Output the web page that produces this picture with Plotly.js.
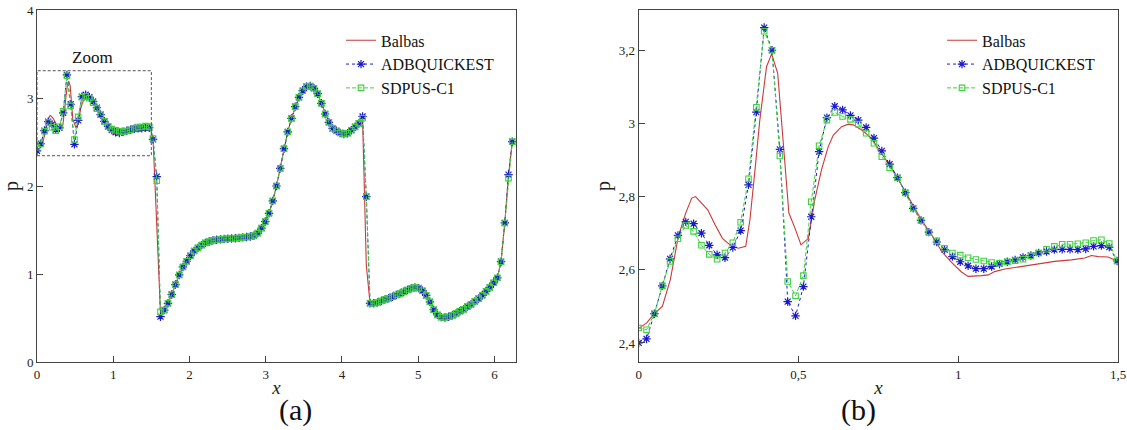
<!DOCTYPE html>
<html><head><meta charset="utf-8">
<script src="https://cdn.plot.ly/plotly-3.0.1.min.js"></script>
<style>html,body{margin:0;padding:0;background:#fff}</style>
</head><body><div id="chart" style="width:1127px;height:430px"></div>
<script>
// grid spacing of the numerical solution (256 cells on [0, 2*pi])
const DX = 2 * Math.PI / 256;

// Fine data, i = 0..61 (x = i*DX), shown in panel (b)
const adbFine = [2.400, 2.411, 2.480, 2.556, 2.630, 2.694, 2.731, 2.726, 2.700, 2.667,
  2.641, 2.633, 2.661, 2.707, 2.832, 3.031, 3.262, 3.200, 2.929, 2.513,
  2.474, 2.554, 2.745, 2.923, 3.016, 3.047, 3.037, 3.022, 3.009, 2.989,
  2.960, 2.925, 2.889, 2.852, 2.811, 2.768, 2.735, 2.703, 2.676, 2.655,
  2.636, 2.622, 2.611, 2.603, 2.603, 2.609, 2.616, 2.622, 2.627, 2.634,
  2.639, 2.646, 2.650, 2.655, 2.656, 2.656, 2.655, 2.657, 2.664, 2.666,
  2.662, 2.624];
const sdpFine = [2.441, 2.436, 2.480, 2.556, 2.623, 2.685, 2.721, 2.705, 2.667, 2.642,
  2.629, 2.646, 2.674, 2.730, 2.849, 3.044, 3.252, 3.200, 2.911, 2.568,
  2.529, 2.584, 2.786, 2.939, 3.009, 3.030, 3.019, 3.011, 2.998, 2.973,
  2.946, 2.909, 2.879, 2.851, 2.810, 2.768, 2.734, 2.702, 2.679, 2.659,
  2.646, 2.640, 2.633, 2.628, 2.624, 2.620, 2.618, 2.622, 2.625, 2.629,
  2.638, 2.646, 2.656, 2.664, 2.670, 2.670, 2.671, 2.674, 2.680, 2.682,
  2.672, 2.624];

// Coarse data, i = 62, 64, ..., 254, shown in panel (a)
const adbCoarse = [2.530, 2.106, 0.515, 0.590, 0.667, 0.767, 0.880, 0.989, 1.080, 1.145,
  1.208, 1.262, 1.297, 1.328, 1.354, 1.369, 1.382, 1.389, 1.394, 1.398,
  1.401, 1.404, 1.406, 1.411, 1.416, 1.420, 1.426, 1.438, 1.464, 1.521,
  1.596, 1.690, 1.830, 2.000, 2.200, 2.424, 2.614, 2.769, 2.902, 3.008,
  3.083, 3.129, 3.136, 3.110, 3.049, 2.940, 2.818, 2.724, 2.655, 2.627,
  2.603, 2.591, 2.600, 2.634, 2.672, 2.712, 2.790, 1.879, 0.667, 0.667,
  0.678, 0.694, 0.712, 0.724, 0.742, 0.762, 0.777, 0.799, 0.818, 0.837,
  0.848, 0.840, 0.810, 0.757, 0.684, 0.594, 0.536, 0.510, 0.505, 0.515,
  0.530, 0.553, 0.576, 0.598, 0.629, 0.655, 0.689, 0.720, 0.758, 0.803,
  0.848, 0.900, 0.955, 1.140, 1.580, 2.130, 2.504];
const sdpCoarse = [2.540, 2.060, 0.570, 0.590, 0.667, 0.767, 0.880, 0.989, 1.080, 1.145,
  1.208, 1.262, 1.297, 1.328, 1.354, 1.369, 1.382, 1.389, 1.394, 1.398,
  1.401, 1.404, 1.406, 1.411, 1.416, 1.420, 1.426, 1.438, 1.464, 1.521,
  1.596, 1.690, 1.830, 2.000, 2.200, 2.424, 2.614, 2.769, 2.902, 3.008,
  3.083, 3.129, 3.136, 3.110, 3.049, 2.940, 2.818, 2.724, 2.655, 2.627,
  2.603, 2.591, 2.600, 2.634, 2.672, 2.712, 2.770, 1.879, 0.667, 0.667,
  0.678, 0.694, 0.712, 0.724, 0.742, 0.762, 0.777, 0.799, 0.818, 0.837,
  0.848, 0.840, 0.810, 0.757, 0.684, 0.594, 0.536, 0.510, 0.505, 0.515,
  0.530, 0.553, 0.576, 0.598, 0.629, 0.655, 0.689, 0.720, 0.758, 0.803,
  0.848, 0.900, 0.955, 1.140, 1.580, 2.090, 2.504];

// Balbas reference solution
const balbasZoomX = [0, 0.025, 0.049, 0.074, 0.099, 0.111, 0.124, 0.147, 0.166, 0.178,
  0.197, 0.216, 0.239, 0.262, 0.291, 0.312, 0.335, 0.348, 0.364, 0.379,
  0.400, 0.416, 0.435, 0.447, 0.458, 0.470, 0.489, 0.508, 0.531, 0.551,
  0.572, 0.593, 0.609, 0.635, 0.656, 0.671, 0.698, 0.729, 0.760, 0.802,
  0.843, 0.885, 0.927, 0.948, 0.979, 1.010, 1.031, 1.052, 1.073, 1.094,
  1.114, 1.146, 1.198, 1.250, 1.302, 1.354, 1.396, 1.417, 1.438, 1.469, 1.497];
const balbasZoomY = [2.440, 2.455, 2.480, 2.500, 2.573, 2.627, 2.691, 2.755, 2.796, 2.800,
  2.782, 2.764, 2.723, 2.686, 2.664, 2.659, 2.664, 2.736, 2.873, 3.009,
  3.155, 3.190, 3.137, 3.009, 2.873, 2.755, 2.714, 2.668, 2.686, 2.791,
  2.873, 2.936, 2.968, 2.991, 2.998, 2.996, 2.982, 2.959, 2.918, 2.864,
  2.800, 2.736, 2.682, 2.650, 2.620, 2.594, 2.582, 2.582, 2.584, 2.586,
  2.595, 2.602, 2.609, 2.618, 2.623, 2.627, 2.632, 2.639, 2.636, 2.635, 2.624];
const balbasCoarse = [2.550, 1.600, 0.560, 0.590, 0.667, 0.767, 0.880, 0.989, 1.080, 1.145,
  1.208, 1.262, 1.297, 1.328, 1.354, 1.369, 1.382, 1.389, 1.394, 1.398,
  1.401, 1.404, 1.406, 1.411, 1.416, 1.420, 1.426, 1.438, 1.464, 1.521,
  1.596, 1.690, 1.830, 2.000, 2.200, 2.424, 2.614, 2.769, 2.902, 3.008,
  3.083, 3.129, 3.136, 3.110, 3.049, 2.940, 2.818, 2.724, 2.655, 2.627,
  2.603, 2.591, 2.600, 2.634, 2.672, 2.712, 2.760, 1.100, 0.667, 0.667,
  0.678, 0.694, 0.712, 0.724, 0.742, 0.762, 0.777, 0.799, 0.818, 0.837,
  0.848, 0.840, 0.810, 0.757, 0.684, 0.594, 0.536, 0.510, 0.505, 0.515,
  0.530, 0.553, 0.576, 0.598, 0.629, 0.655, 0.689, 0.720, 0.758, 0.803,
  0.848, 0.900, 0.955, 1.140, 1.580, 2.120, 2.504];

const seriesNames = ['Balbas', 'ADBQUICKEST', 'SDPUS-C1'];

// ---- assemble ----
const xFine = adbFine.map((_, i) => i * DX);
const xCoarse = adbCoarse.map((_, k) => (62 + 2 * k) * DX);
const even = (a) => a.filter((_, i) => i % 2 === 0);
const xLeft = even(xFine).concat(xCoarse);
const adbLeft = even(adbFine).concat(adbCoarse);
const sdpLeft = even(sdpFine).concat(sdpCoarse);
const balbasLeftX = balbasZoomX.concat(xCoarse);
const balbasLeftY = balbasZoomY.concat(balbasCoarse);

const SERIF = 'Liberation Serif';
const RED = '#cc3838', BLUE = '#1a1acc', GREEN = '#3fd13f';

function traces(xa, ya, legendId, bx, by, ax, ay, sx, sy) {
  return [
    {x: bx, y: by, xaxis: xa, yaxis: ya, legend: legendId, name: seriesNames[0], type: 'scatter', mode: 'lines',
     line: {color: RED, width: 1.1}},
    {x: ax, y: ay, xaxis: xa, yaxis: ya, legend: legendId, name: seriesNames[1], type: 'scatter', mode: 'lines+markers',
     line: {color: BLUE, width: 1, dash: 'dot'},
     marker: {symbol: 'asterisk-open', size: 7, color: BLUE, line: {color: BLUE, width: 1.2}}},
    {x: sx, y: sy, xaxis: xa, yaxis: ya, legend: legendId, name: seriesNames[2], type: 'scatter', mode: 'lines+markers',
     line: {color: GREEN, width: 1, dash: '4px,2px'},
     marker: {symbol: 'square-open', size: 5.5, color: GREEN, line: {color: GREEN, width: 1.1}}}
  ];
}

const data = traces('x', 'y', 'legend', balbasLeftX, balbasLeftY, xLeft, adbLeft, xLeft, sdpLeft)
  .concat(traces('x2', 'y2', 'legend2', balbasZoomX, balbasZoomY, xFine, adbFine, xFine, sdpFine));

const W = 1127;
const axisBase = {
  showline: true, mirror: true, linecolor: '#444', linewidth: 1,
  ticks: 'inside', ticklen: 6, tickcolor: '#444', tickwidth: 1,
  showgrid: false, zeroline: false,
  tickfont: {family: SERIF, size: 13, color: '#222'}
};
const zoomY = [2.348, 3.31];

const layout = {
  width: 1127, height: 430,
  margin: {l: 0, r: 0, t: 10, b: 68},
  paper_bgcolor: '#fff', plot_bgcolor: '#fff',
  separators: ', ',
  font: {family: SERIF, color: '#222'},
  showlegend: true,
  xaxis: Object.assign({}, axisBase, {domain: [37 / W, 516 / W], range: [0, 2 * Math.PI], tick0: 0, dtick: 1, anchor: 'y',
    title: {text: '<i>x</i>', font: {family: SERIF, size: 19, color: '#222'}, standoff: 0}}),
  yaxis: Object.assign({}, axisBase, {domain: [0, 1], range: [0, 4], tick0: 0, dtick: 1, anchor: 'x',
    title: {text: 'p', font: {family: SERIF, size: 20, color: '#222'}, standoff: 8}}),
  xaxis2: Object.assign({}, axisBase, {domain: [638.7 / W, 1118 / W], range: [0, 1.5], tick0: 0, dtick: 0.5, anchor: 'y2',
    title: {text: '<i>x</i>', font: {family: SERIF, size: 19, color: '#222'}, standoff: 0}}),
  yaxis2: Object.assign({}, axisBase, {domain: [0, 1], range: zoomY, tick0: 2.4, dtick: 0.2, anchor: 'x2',
    title: {text: 'p', font: {family: SERIF, size: 20, color: '#222'}, standoff: 2}}),
  legend: {x: 341 / W, y: 0.962, xanchor: 'left', yanchor: 'top', bgcolor: 'rgba(0,0,0,0)',
    font: {family: SERIF, size: 16, color: '#111'}, tracegroupgap: 0},
  legend2: {x: 942 / W, y: 0.962, xanchor: 'left', yanchor: 'top', bgcolor: 'rgba(0,0,0,0)',
    font: {family: SERIF, size: 16, color: '#111'}, tracegroupgap: 0},
  shapes: [{type: 'rect', xref: 'x', yref: 'y', x0: 0, x1: 1.5, y0: zoomY[0] - 0.004, y1: zoomY[1],
    line: {color: '#555', width: 1, dash: '3px,2px'}, fillcolor: 'rgba(0,0,0,0)'}],
  annotations: [
    {xref: 'x', yref: 'y', x: 0.73, y: 3.46, text: 'Zoom', showarrow: false,
     font: {family: SERIF, size: 17, color: '#111'}},
    {xref: 'paper', yref: 'paper', x: 277 / W, y: -0.137, yanchor: 'middle', text: '(a)', showarrow: false,
     font: {family: SERIF, size: 30, color: '#111'}},
    {xref: 'paper', yref: 'paper', x: 878 / W, y: -0.137, yanchor: 'middle', text: '(b)', showarrow: false,
     font: {family: SERIF, size: 30, color: '#111'}}
  ]
};

Plotly.newPlot('chart', data, layout, {displayModeBar: false, staticPlot: true});
</script>
</body></html>
